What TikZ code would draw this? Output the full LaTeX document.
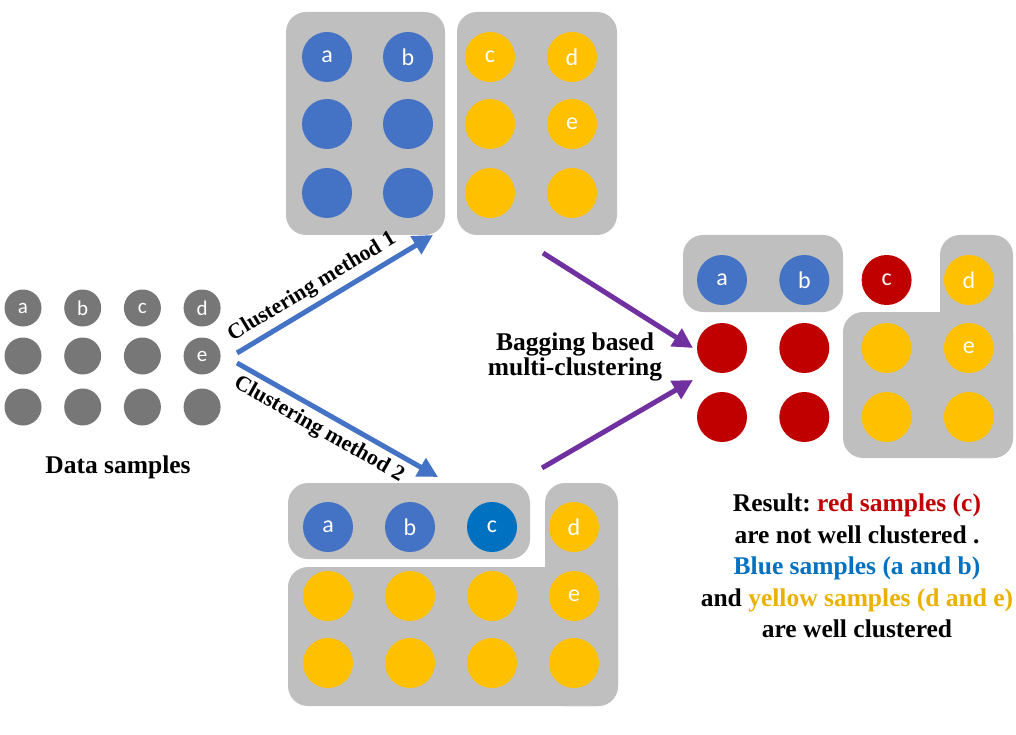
\documentclass[tikz,border=0pt]{standalone}
\usepackage{fontspec}
\setmainfont{Liberation Serif}
\newfontfamily\carlito{Carlito}
\usetikzlibrary{arrows.meta}
\frenchspacing
\definecolor{boxgray}{HTML}{BFBFBF}
\definecolor{smpgray}{HTML}{777777}
\definecolor{cblue}{HTML}{4472C4}
\definecolor{cdblue}{HTML}{0070C0}
\definecolor{cyellow}{HTML}{FFC000}
\definecolor{cred}{HTML}{C00000}
\definecolor{cpurple}{HTML}{7030A0}
\colorlet{tyellow}{cyellow!92!black}
\tikzstyle{smp}=[circle, minimum size=50, inner sep=0, text=white, font=\carlito\fontsize{24}{24}\selectfont]
\tikzstyle{smp small}=[smp, minimum size=37, fill=smpgray, font=\carlito\fontsize{21}{21}\selectfont]
\tikzstyle{box}=[fill=boxgray, rounded corners=20]
\tikzstyle{caption}=[inner sep=2, font=\bfseries\fontsize{25.5}{25}\selectfont]
\tikzstyle{flow}=[line width=5, -{Triangle[length=20pt, width=20pt]}]

\begin{document}
\begin{tikzpicture}[x=1pt, y=-1pt]
      \useasboundingbox (0,0) rectangle (1016,735);

      % DATA SAMPLES
      \foreach \row/\y/\lbls in {1/308/{a,b,c,d}, 2/356/{{},{},{},e}, 3/407/{{},{},{},{}}}{
        \foreach \t [count=\c] in \lbls {  % loop over columns
          \node[smp small] (D-\row-\c) at ({23+(\c-1)*59.7}, \y) {\t};
        }
      }
      \node[caption] (data) at (118, 467) {Data samples};

      % CLUSTERING METHOD 1
      \fill[box] (286, 12) rectangle (445, 235);
      \fill[box] (457, 12) rectangle (617, 235);
      \foreach \row/\y/\items in {1/57/{cblue/a,cblue/b,cyellow/c,cyellow/d},
                                  2/124/{cblue/{},cblue/{},cyellow/{},cyellow/e},
                                  3/193/{cblue/{},cblue/{},cyellow/{},cyellow/{}}}{
        \foreach \col/\t [count=\c, evaluate={\x=(\c<3 ? 327+(\c-1)*81 : 490+(\c-3)*82);}] in \items {
          \node[smp, fill=\col] (A-\row-\c) at (\x, \y) {\t};
        }
      }

      % CLUSTERING METHOD 2
      \fill[box] (288, 483) rectangle (530, 559);
      \fill[box] (545, 483) rectangle (618, 706);
      \fill[box] (288, 567) rectangle (618, 706);
      \foreach \row/\y/\items in {1/527/{cblue/a,cblue/b,cdblue/c,cyellow/d},
                                  2/596/{cyellow/{},cyellow/{},cyellow/{},cyellow/e},
                                  3/663/{cyellow/{},cyellow/{},cyellow/{},cyellow/{}}}{
        \foreach \col/\t [count=\c] in \items {
          \node[smp, fill=\col] (B-\row-\c) at ({328+(\c-1)*82}, \y) {\t};
        }
      }

      % RESULT
      \fill[box] (683, 235) rectangle (843, 312);
      \fill[box] (940, 235) rectangle (1013, 458);
      \fill[box] (843, 312) rectangle (1013, 458);
      \foreach \row/\y/\items in {1/280/{cblue/a,cblue/b,cred/c,cyellow/d},
                                  2/348/{cred/{},cred/{},cyellow/{},cyellow/e},
                                  3/417/{cred/{},cred/{},cyellow/{},cyellow/{}}}{
        \foreach \col/\t [count=\c] in \items {
          \node[smp, fill=\col] (R-\row-\c) at ({722+(\c-1)*82.3}, \y) {\t};
        }
      }

      % ARROWS
      \coordinate (M1-s) at (237, 353);
      \coordinate (M1-e) at (433, 235);
      \coordinate (M2-s) at (237, 363);
      \coordinate (M2-e) at (438, 477);
      \coordinate (G1-s) at (543, 253);
      \coordinate (G1-e) at (693, 348);
      \coordinate (G2-s) at (542, 468);
      \coordinate (G2-e) at (693, 380);
      \draw[flow, cblue] (M1-s) -- (M1-e)
        node[caption, font=\bfseries\fontsize{22}{22}\selectfont, text=black, pos=0.43, above=3, sloped] {Clustering method 1};
      \draw[flow, cblue] (M2-s) -- (M2-e)
        node[caption, font=\bfseries\fontsize{22}{22}\selectfont, text=black, pos=0.45, below=3, sloped] {Clustering method 2};
      \draw[flow, cpurple] (G1-s) -- (G1-e);
      \draw[flow, cpurple] (G2-s) -- (G2-e);
      \node[caption, align=center] (bag) at (575, 357) {Bagging based\\multi-clustering};

      % CONCLUSION
      \node[caption, align=center, font=\bfseries\fontsize{25.5}{31.5}\selectfont] (res) at (857, 566)
        {Result: \textcolor{cred}{red samples (c)}\\
         are not well clustered .\\
         \textcolor{cdblue}{Blue samples (a and b)}\\
         and \textcolor{tyellow}{yellow samples (d and e)}\\
         are well clustered};
    \end{tikzpicture}
\end{document}
